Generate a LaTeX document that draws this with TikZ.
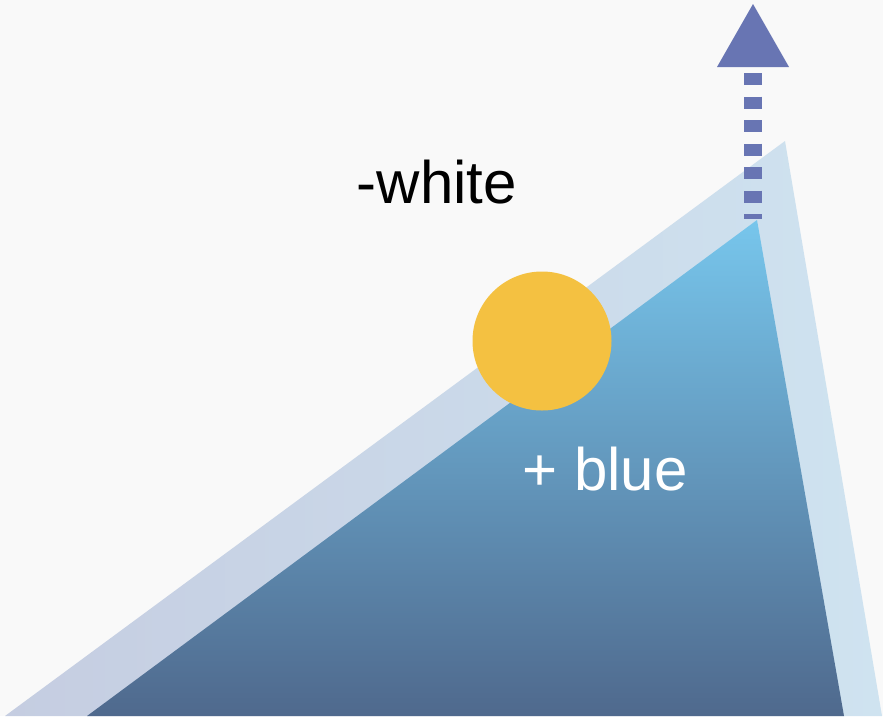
\documentclass[tikz,border=0pt]{standalone}
\usepackage{fontspec}
\setmainfont{Liberation Sans}
\definecolor{bgc}{HTML}{F9F9F9}
\definecolor{bandl}{HTML}{C5CDE1}
\definecolor{bandr}{HTML}{CFE3F0}
\definecolor{skytop}{HTML}{77C6EC}
\definecolor{skybot}{HTML}{4F698D}
\definecolor{sunc}{HTML}{F4C141}
\definecolor{arrowc}{HTML}{6875B3}
\tikzset{
  lbl/.style={font=\fontsize{60}{64}\selectfont, anchor=base, inner sep=0pt},
  dasharrow/.style={draw=arrowc, line width=18pt, line cap=butt, dash pattern=on 12pt off 11.5pt},
}
\begin{document}
\begin{tikzpicture}[x=1pt,y=-1pt]
\fill[bgc] (0,0) rectangle (883,716);
\useasboundingbox (0,0) rectangle (883,716);
% coordinates
\coordinate (obl) at (5,716);
\coordinate (otop) at (785,141);
\coordinate (obr) at (882,716);
\coordinate (ibl) at (87,716);
\coordinate (itop) at (757,220);
\coordinate (ibr) at (844,716);
% outer light band
\shade[left color=bandl, right color=bandr] (obl) -- (otop) -- (obr) -- cycle;
% inner blue triangle
\shade[top color=skytop, bottom color=skybot] (ibl) -- (itop) -- (ibr) -- cycle;
% dashed arrow
\coordinate (atop) at (753,73);
\coordinate (abot) at (753,219);
\draw[dasharrow] (atop) -- (abot);
\fill[arrowc] (753,4) -- (789,67) -- (717,67) -- cycle;
% sun
\node[circle, fill=sunc, minimum size=139pt, inner sep=0pt] (sun) at (542,341) {};
% labels
\node[lbl, text=black] (white) at (437,203) {-white};
\node[lbl, text=white] (blue) at (605,490) {+ blue};
\end{tikzpicture}
\end{document}
